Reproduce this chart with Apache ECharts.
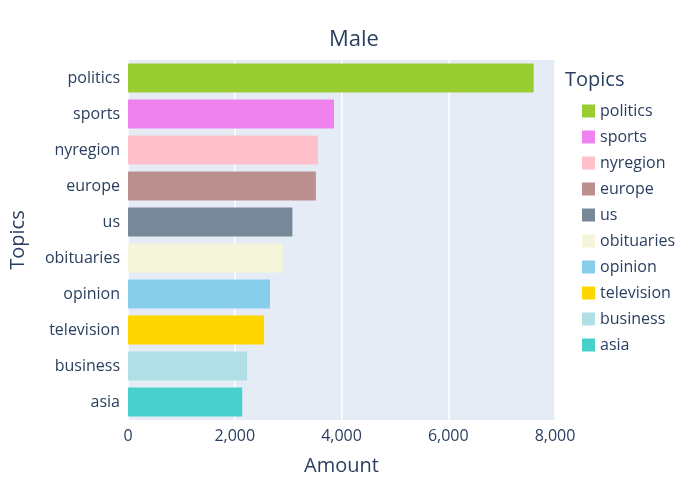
<!DOCTYPE html>
<html>
<head>
<meta charset="utf-8">
<script src="https://cdn.jsdelivr.net/npm/echarts@6/dist/echarts.min.js"></script>
<style>html,body{margin:0;padding:0;background:#fff}#main{width:700px;height:500px}</style>
</head>
<body>
<div id="main"></div>
<script>
// topics, top to bottom
var topics = ['politics', 'sports', 'nyregion', 'europe', 'us', 'obituaries', 'opinion', 'television', 'business', 'asia'];
var amounts = [7600, 3860, 3560, 3520, 3080, 2900, 2660, 2550, 2230, 2140];
var colors = ['#9acd32', '#ee82ee', '#ffc0cb', '#bc8f8f', '#778899', '#f5f5dc', '#87ceeb', '#ffd700', '#b0e0e6', '#48d1cc'];
var xTicks = [0, 2000, 4000, 6000, 8000];

var cats = topics.slice().reverse();
var myChart = echarts.init(document.getElementById('main'));

var series = [];
for (var i = 0; i < topics.length; i++) {
	var d = cats.map(function(c) { return c === topics[i] ? amounts[i] : null; });
	series.push({
		name: topics[i],
		type: 'bar',
		stack: 'all',
		barWidth: '80%',
		itemStyle: { color: colors[i] },
		data: d
	});
}

var txt = '#2a3f5f';
var option = {
	backgroundColor: '#fff',
	textStyle: { fontFamily: 'Open Sans, Liberation Sans, sans-serif' },
	title: {
		text: 'Male', left: 349, top: 24, textAlign: 'center',
		textStyle: { fontSize: 22, fontWeight: 'normal', color: txt }
	},
	legend: {
		orient: 'vertical', left: 577, top: 98, itemGap: 10,
		itemWidth: 13, itemHeight: 13, icon: 'rect',
		textStyle: { fontSize: 16, color: txt },
		data: topics
	},
	graphic: [{
		type: 'text', left: 565, top: 70,
		style: { text: 'Topics', fontSize: 20, fill: txt, fontFamily: 'Open Sans, sans-serif' }
	}],
	grid: { left: 121, right: 145, top: 60, bottom: 80, show: true, backgroundColor: '#E5ECF6', borderWidth: 0 },
	xAxis: {
		type: 'value', min: xTicks[0], max: xTicks[xTicks.length - 1], interval: 2000,
		name: 'Amount', nameLocation: 'middle', nameGap: 36,
		nameTextStyle: { fontSize: 20, color: txt },
		axisLabel: { fontSize: 16, color: txt },
		axisLine: { show: false }, axisTick: { show: false },
		splitLine: { lineStyle: { color: '#fff', width: 1.5 } }
	},
	yAxis: {
		type: 'category', data: cats,
		name: 'Topics', nameLocation: 'middle', nameGap: 100,
		nameTextStyle: { fontSize: 20, color: txt },
		axisLabel: { fontSize: 16, color: txt },
		axisLine: { show: false }, axisTick: { show: false }
	},
	series: series
};
myChart.setOption(option);
</script>
</body>
</html>
